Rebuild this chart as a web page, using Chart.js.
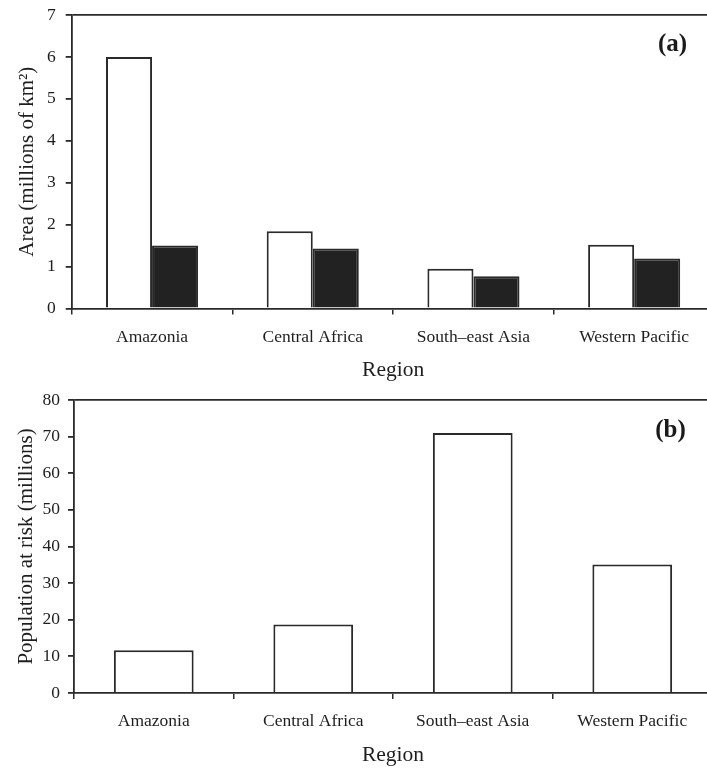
<!DOCTYPE html>
<html>
<head>
<meta charset="utf-8">
<script src="https://cdn.jsdelivr.net/npm/chart.js@4/dist/chart.umd.min.js"></script>
<style>
html,body{margin:0;padding:0;background:#fff;overflow:hidden;width:707px;height:771px;}
.box{position:absolute;left:0;width:720px;}
</style>
</head>
<body>
<div class="box" style="top:0;height:385px;"><canvas id="ca" width="720" height="385"></canvas></div>
<div class="box" style="top:385px;height:386px;"><canvas id="cb" width="720" height="386"></canvas></div>
<script>
const categories = ['Amazonia', 'Central Africa', 'South\u2013east Asia', 'Western Pacific'];
const areaTotal = [6.0, 1.84, 0.95, 1.52];
const areaRisk = [1.5, 1.43, 0.77, 1.19];
const populationAtRisk = [11.7, 18.7, 71.0, 35.1];
const areaTicks = [0, 1, 2, 3, 4, 5, 6, 7];
const popTicks = [0, 10, 20, 30, 40, 50, 60, 70, 80];

const FONT = "'Liberation Serif', 'Times New Roman', serif";
const INK = '#1e1e1e';
const LINE = '#2a2a2a';

function panelLabel(text, x, y) {
  return {
    id: 'panelLabel',
    afterDraw(chart) {
      const ctx = chart.ctx;
      ctx.save();
      ctx.font = 'bold 25px ' + FONT;
      ctx.fillStyle = '#1a1a1a';
      ctx.textAlign = 'center';
      ctx.textBaseline = 'middle';
      ctx.fillText(text, x, y);
      ctx.restore();
    }
  };
}

function makeOptions(cfg) {
  return {
    responsive: false,
    animation: false,
    events: [],
    layout: { padding: { left: 0, right: 720 - cfg.right, top: cfg.top, bottom: 0 } },
    plugins: { legend: { display: false }, tooltip: { enabled: false } },
    scales: {
      x: {
        grid: { offset: true, drawOnChartArea: false, color: LINE, tickColor: LINE, tickLength: 6, lineWidth: 1.5 },
        border: { display: true, color: LINE, width: 1.8 },
        ticks: { color: INK, font: { family: FONT, size: 17.5 }, padding: cfg.xPad, maxRotation: 0, autoSkip: false },
        title: { display: true, text: 'Region', color: INK, font: { family: FONT, size: 21.5 }, padding: { top: 4, bottom: cfg.titlePadX } },
        afterFit(s) { s.height = cfg.xHeight; s.paddingLeft = 0; s.paddingRight = 0; }
      },
      y: {
        min: 0, max: cfg.max,
        afterBuildTicks(s) { s.ticks = cfg.ticks.map(v => ({ value: v })); },
        grid: {
          color: c => (c.tick && c.tick.value === cfg.max) ? LINE : 'rgba(0,0,0,0)',
          tickColor: LINE, tickLength: 6, lineWidth: 1.8
        },
        border: { display: true, color: LINE, width: 1.8 },
        ticks: { color: INK, font: { family: FONT, size: 17.5 }, padding: cfg.yPad },
        title: { display: true, text: cfg.yTitle, color: INK, font: { family: FONT, size: 21 }, padding: { top: cfg.titlePadY, bottom: 0 } },
        afterFit(s) { s.width = cfg.left; s.paddingTop = 0; s.paddingBottom = 0; }
      }
    }
  };
}

new Chart(document.getElementById('ca'), {
  type: 'bar',
  data: {
    labels: categories,
    datasets: [
      { data: areaTotal, backgroundColor: '#ffffff', borderColor: LINE, borderWidth: 2, categoryPercentage: 0.573, barPercentage: 1.0 },
      { data: areaRisk, backgroundColor: '#222222', borderColor: LINE, borderWidth: 2, categoryPercentage: 0.573, barPercentage: 1.0 }
    ]
  },
  options: makeOptions({ right: 714.5, top: 15, left: 71.7, xHeight: 76.5, xPad: 12, titlePadX: 2, yPad: 10, titlePadY: 15, max: 7, ticks: areaTicks, yTitle: 'Area (millions of km\u00B2)' }),
  plugins: [panelLabel('(a)', 672.5, 45)]
});

new Chart(document.getElementById('cb'), {
  type: 'bar',
  data: {
    labels: categories,
    datasets: [
      { data: populationAtRisk, backgroundColor: '#ffffff', borderColor: LINE, borderWidth: 2, categoryPercentage: 0.5, barPercentage: 1.0 }
    ]
  },
  options: makeOptions({ right: 712, top: 15, left: 74, xHeight: 78, xPad: 12, titlePadX: 3, yPad: 8, titlePadY: 14, max: 80, ticks: popTicks, yTitle: 'Population at risk (millions)' }),
  plugins: [panelLabel('(b)', 670.5, 46)]
});
</script>
</body>
</html>
